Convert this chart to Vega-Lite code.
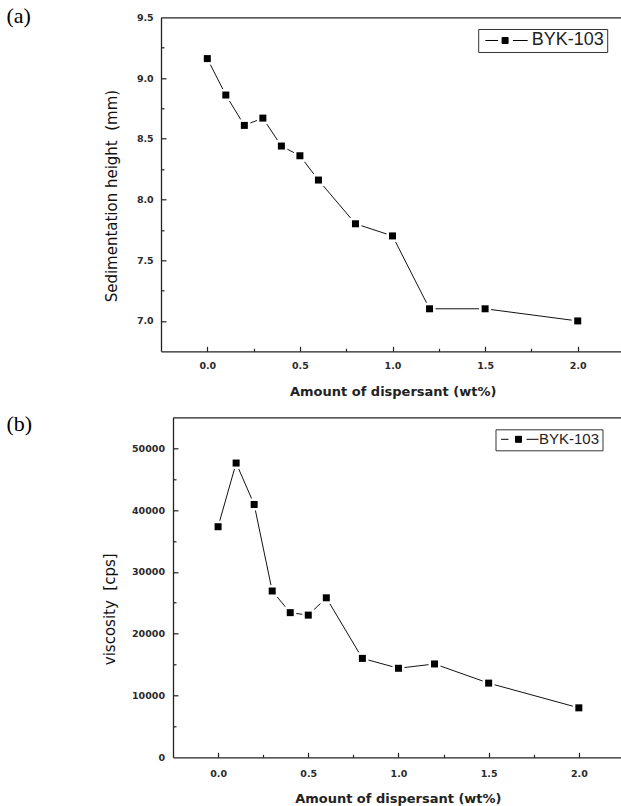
{
  "$schema": "https://vega.github.io/schema/vega-lite/v6.json",
  "autosize": {"type": "pad"},
  "padding": {"left": 6, "top": 5.3, "right": 0, "bottom": 0},
  "background": "white",
  "spacing": 66,
  "bounds": "flush",
  "resolve": {"scale": {"color": "independent"}, "legend": {"color": "independent"}},
  "config": {
    "view": {"stroke": null},
    "axis": {
      "grid": false,
      "labelFont": "DejaVu Sans",
      "labelFontWeight": "bold",
      "labelFontSize": 9.5,
      "labelColor": "#2a2a2a",
      "domainColor": "#222",
      "domainWidth": 1.3,
      "tickColor": "#222",
      "tickWidth": 1.2,
      "labelOverlap": false,
      "labelFlush": false,
      "labelBound": false
    }
  },
  "vconcat": [
    {
      "title": {"text": "(a)", "orient": "top", "anchor": "start", "frame": "group", "font": "Liberation Serif", "fontSize": 22, "fontWeight": "normal", "color": "black", "baseline": "top", "offset": -16, "dx": -154.5, "dy": 0, "align": "left"},
      "width": 459.5,
      "height": 334,
      "data": {"values": [
        {"wt": 0.0, "h": 9.16, "series": "BYK-103"},
        {"wt": 0.1, "h": 8.86, "series": "BYK-103"},
        {"wt": 0.2, "h": 8.61, "series": "BYK-103"},
        {"wt": 0.3, "h": 8.67, "series": "BYK-103"},
        {"wt": 0.4, "h": 8.44, "series": "BYK-103"},
        {"wt": 0.5, "h": 8.36, "series": "BYK-103"},
        {"wt": 0.6, "h": 8.16, "series": "BYK-103"},
        {"wt": 0.8, "h": 7.80, "series": "BYK-103"},
        {"wt": 1.0, "h": 7.70, "series": "BYK-103"},
        {"wt": 1.2, "h": 7.10, "series": "BYK-103"},
        {"wt": 1.5, "h": 7.10, "series": "BYK-103"},
        {"wt": 2.0, "h": 7.00, "series": "BYK-103"}
      ]},
      "layer": [
        {
          "mark": {"type": "line", "color": "#111", "strokeWidth": 1},
          "encoding": {
            "x": {"field": "wt", "type": "quantitative",
              "scale": {"domain": [-0.25, 2.231], "nice": false, "zero": false},
              "axis": {"orient": "bottom", "ticks": false,
                "values": [0, 0.5, 1, 1.5, 2], "format": ".1f",
                "labelPadding": 8.9,
                "title": "Amount of dispersant (wt%)",
                "titleFont": "DejaVu Sans", "titleFontWeight": "bold", "titleFontSize": 13, "titleColor": "#222",
                "titleX": 231.7, "titleY": 34.4, "titleBaseline": "top", "titleAlign": "center"}},
            "y": {"field": "h", "type": "quantitative",
              "scale": {"domain": [6.75, 9.5], "nice": false, "zero": false},
              "axis": {"orient": "left", "ticks": false,
                "values": [7, 7.5, 8, 8.5, 9, 9.5], "format": ".1f",
                "labelPadding": 7.8,
                "title": "Sedimentation height\u00a0 (mm)",
                "titleFont": "DejaVu Sans", "titleFontWeight": "normal", "titleFontSize": 15, "titleColor": "#111",
                "titleX": -45, "titleY": 178.3, "titleAngle": 270, "titleAlign": "center", "titleBaseline": "alphabetic"}}
          }
        },
        {
          "mark": {"type": "point", "shape": "square", "filled": true, "size": 144, "color": "white", "opacity": 1},
          "encoding": {
            "x": {"field": "wt", "type": "quantitative", "axis": {"orient": "top", "labels": false, "ticks": false, "title": null, "domain": true}},
            "y": {"field": "h", "type": "quantitative", "axis": {"orient": "right", "offset": -459.5, "labels": false, "domain": false, "title": null, "ticks": true, "tickSize": 5, "values": [7, 7.5, 8, 8.5, 9]}}
          }
        },
        {
          "mark": {"type": "point", "shape": "square", "filled": true, "size": 49, "opacity": 1},
          "encoding": {
            "x": {"field": "wt", "type": "quantitative", "axis": {"orient": "top", "offset": -334, "labels": false, "domain": false, "title": null, "ticks": true, "tickSize": 5, "values": [0, 0.5, 1, 1.5, 2]}},
            "y": {"field": "h", "type": "quantitative", "axis": null},
            "color": {"field": "series", "type": "nominal", "scale": {"range": ["#000000"]},
              "legend": {"orient": "none", "legendX": 317.2, "legendY": 11.7, "title": null,
                "symbolType": "M-1.1,0H2.1M5.8,0H9.5M3.1,-0.75H4.6V0.75H3.1Z",
                "symbolSize": 64, "symbolStrokeWidth": 1, "symbolStrokeColor": "#000", "symbolFillColor": "#000",
                "labelFont": "Liberation Sans", "labelFontSize": 18, "labelColor": "#222", "labelOffset": 33,
                "padding": 2.5, "strokeColor": "#333", "fillColor": "white",
                "encode": {"legend": {"update": {"strokeWidth": {"value": 1.5}}}, "symbols": {"update": {"stroke": {"value": "#000"}, "strokeWidth": {"value": 1}, "fill": {"value": "#000"}}}}}}
          }
        },
        {
          "mark": {"type": "point", "shape": "square", "size": 1, "opacity": 0},
          "encoding": {
            "x": {"field": "wt", "type": "quantitative", "axis": {"orient": "top", "offset": -334, "labels": false, "domain": false, "title": null, "ticks": true, "tickSize": 3, "values": [0.25, 0.75, 1.25, 1.75]}},
            "y": {"field": "h", "type": "quantitative", "axis": {"orient": "right", "offset": -459.5, "labels": false, "domain": false, "title": null, "ticks": true, "tickSize": 3, "values": [7.25, 7.75, 8.25, 8.75, 9.25]}}
          }
        }
      ],
      "resolve": {"axis": {"x": "independent", "y": "independent"}}
    },
    {
      "title": {"text": "(b)", "orient": "top", "anchor": "start", "frame": "group", "font": "Liberation Serif", "fontSize": 22, "fontWeight": "normal", "color": "black", "baseline": "top", "offset": -18.25, "dx": -154.5, "dy": 0, "align": "left"},
      "width": 459.5,
      "height": 340,
      "data": {"values": [
        {"wt": 0.0, "v": 37300, "series": "BYK-103"},
        {"wt": 0.1, "v": 47600, "series": "BYK-103"},
        {"wt": 0.2, "v": 40900, "series": "BYK-103"},
        {"wt": 0.3, "v": 26900, "series": "BYK-103"},
        {"wt": 0.4, "v": 23400, "series": "BYK-103"},
        {"wt": 0.5, "v": 23000, "series": "BYK-103"},
        {"wt": 0.6, "v": 25800, "series": "BYK-103"},
        {"wt": 0.8, "v": 16000, "series": "BYK-103"},
        {"wt": 1.0, "v": 14400, "series": "BYK-103"},
        {"wt": 1.2, "v": 15100, "series": "BYK-103"},
        {"wt": 1.5, "v": 12000, "series": "BYK-103"},
        {"wt": 2.0, "v": 8000, "series": "BYK-103"}
      ]},
      "layer": [
        {
          "mark": {"type": "line", "color": "#111", "strokeWidth": 1},
          "encoding": {
            "x": {"field": "wt", "type": "quantitative",
              "scale": {"domain": [-0.25, 2.231], "nice": false, "zero": false, "range": [12, 459.5]},
              "axis": {"orient": "bottom", "ticks": false,
                "values": [0, 0.5, 1, 1.5, 2], "format": ".1f",
                "labelPadding": 11.6,
                "title": "Amount of dispersant (wt%)",
                "titleFont": "DejaVu Sans", "titleFontWeight": "bold", "titleFontSize": 13, "titleColor": "#222",
                "titleX": 236.8, "titleY": 35.1, "titleBaseline": "top", "titleAlign": "center"}},
            "y": {"field": "v", "type": "quantitative",
              "scale": {"domain": [0, 55000], "nice": false, "zero": false},
              "axis": {"orient": "left", "offset": -12, "ticks": false,
                "values": [0, 10000, 20000, 30000, 40000, 50000], "format": "d",
                "labelPadding": 8.5,
                "title": "viscosity\u00a0 [cps]",
                "titleFont": "DejaVu Sans", "titleFontWeight": "normal", "titleFontSize": 15, "titleColor": "#111",
                "titleX": -58.5, "titleY": 191.5, "titleAngle": 270, "titleAlign": "center", "titleBaseline": "alphabetic"}}
          }
        },
        {
          "mark": {"type": "point", "shape": "square", "filled": true, "size": 144, "color": "white", "opacity": 1},
          "encoding": {
            "x": {"field": "wt", "type": "quantitative", "axis": {"orient": "top", "labels": false, "ticks": false, "title": null, "domain": true}},
            "y": {"field": "v", "type": "quantitative", "axis": {"orient": "right", "offset": -447.5, "labels": false, "domain": false, "title": null, "ticks": true, "tickSize": 5, "values": [10000, 20000, 30000, 40000, 50000]}}
          }
        },
        {
          "mark": {"type": "point", "shape": "square", "filled": true, "size": 49, "opacity": 1},
          "encoding": {
            "x": {"field": "wt", "type": "quantitative", "axis": {"orient": "top", "offset": -340, "labels": false, "domain": false, "title": null, "ticks": true, "tickSize": 5, "values": [0, 0.5, 1, 1.5, 2]}},
            "y": {"field": "v", "type": "quantitative", "axis": null},
            "color": {"field": "series", "type": "nominal", "scale": {"range": ["#000000"]},
              "legend": {"orient": "none", "legendX": 334.5, "legendY": 12, "title": null,
                "symbolType": "M-1.1,0H0.75M5.25,0H8.25M2.5,-0.75H4V0.75H2.5Z",
                "symbolSize": 64, "symbolStrokeWidth": 1, "symbolStrokeColor": "#000", "symbolFillColor": "#000",
                "labelFont": "Liberation Sans", "labelFontSize": 15, "labelColor": "#222", "labelOffset": 26,
                "padding": 2.5, "strokeColor": "#333", "fillColor": "white",
                "encode": {"legend": {"update": {"strokeWidth": {"value": 1.5}}}, "symbols": {"update": {"stroke": {"value": "#000"}, "strokeWidth": {"value": 1}, "fill": {"value": "#000"}}}}}}
          }
        },
        {
          "mark": {"type": "point", "shape": "square", "size": 1, "opacity": 0},
          "encoding": {
            "x": {"field": "wt", "type": "quantitative", "axis": {"orient": "top", "offset": -340, "labels": false, "domain": false, "title": null, "ticks": true, "tickSize": 3, "values": [0.25, 0.75, 1.25, 1.75]}},
            "y": {"field": "v", "type": "quantitative", "axis": {"orient": "right", "offset": -447.5, "labels": false, "domain": false, "title": null, "ticks": true, "tickSize": 3, "values": [5000, 15000, 25000, 35000, 45000]}}
          }
        }
      ],
      "resolve": {"axis": {"x": "independent", "y": "independent"}}
    }
  ]
}
